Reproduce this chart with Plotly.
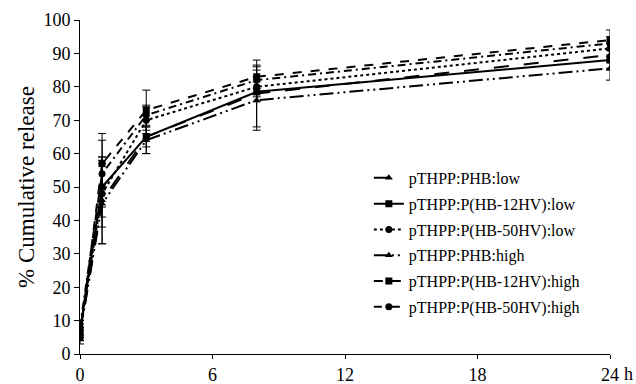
import plotly.graph_objects as go

times = [0, 1, 3, 8, 24]
tick_vals = [0, 6, 12, 18, 24]
tick_text = ["0", "6", "12", "18", "24"]

names = ["pTHPP:PHB:low", "pTHPP:P(HB-12HV):low", "pTHPP:P(HB-50HV):low",
         "pTHPP:PHB:high", "pTHPP:P(HB-12HV):high", "pTHPP:P(HB-50HV):high"]

phb_low = [6, 46, 65, 78, 89.5]
hv12_low = [7, 50, 65, 78.5, 88]
hv50_low = [7, 48, 70, 80, 91.5]
phb_high = [6, 45, 64, 76, 85.5]
hv12_high = [5, 57, 73, 83, 94]
hv50_high = [8, 54, 71.5, 82, 93]

err_phb_low = [2, 13, 5, 10, 2]
err_hv12_low = [2, 9, 3, 3, 3]
err_hv50_low = [2, 10, 4, 3, 2]
err_phb_high = [2, 12, 4, 9, 3.5]
err_hv12_high = [2, 9, 6, 3.5, 3]
err_hv50_high = [2, 10, 3, 4, 2]

series = [phb_low, hv12_low, hv50_low, phb_high, hv12_high, hv50_high]
errors = [err_phb_low, err_hv12_low, err_hv50_low, err_phb_high, err_hv12_high, err_hv50_high]
dashes = ["longdash", "solid", "dot", "14px,4px,2px,4px,2px,4px", "dash", "8px,4px,2px,4px"]
symbols = ["triangle-up", "square", "circle", "triangle-up", "square", "circle"]

fig = go.Figure()
for i, (nm, ys, er, ds, sy) in enumerate(zip(names, series, errors, dashes, symbols)):
    fig.add_trace(go.Scatter(
        x=times, y=ys, name=nm, mode="lines+markers",
        legendgroup=str(i),
        line=dict(color="black", width=2, dash=ds),
        marker=dict(symbol=sy, size=7, color="black"),
        error_y=dict(type="data", array=er, visible=True, color="black", thickness=1, width=4),
    ))

font_fam = "Liberation Serif, Times New Roman, serif"
fig.update_layout(
    width=636, height=384,
    margin=dict(l=80, r=26, t=20, b=30),
    plot_bgcolor="white", paper_bgcolor="white",
    font=dict(family=font_fam, color="black", size=18),
    showlegend=True,
    legend=dict(x=0.545, y=0.578, xanchor="left", yanchor="top",
                font=dict(family=font_fam, size=16, color="black"),
                bgcolor="rgba(0,0,0,0)", tracegroupgap=2, traceorder="grouped"),
    xaxis=dict(range=[0, 24], tickvals=tick_vals, ticktext=tick_text, automargin=False,
               showline=True, linecolor="black", linewidth=1, ticks="outside",
               ticklen=4, tickcolor="black", showgrid=False, zeroline=False,
               tickfont=dict(size=18)),
    yaxis=dict(range=[0, 100], dtick=10, showline=True, linecolor="black", linewidth=1,
               automargin=False,
               ticks="outside", ticklen=5, tickcolor="black", showgrid=False, zeroline=False,
               title=dict(text="% Cumulative release", font=dict(size=23), standoff=2),
               tickfont=dict(size=18)),
)
fig.add_annotation(x=24, y=0, xref="x", yref="paper", text="h", showarrow=False,
                   xanchor="left", yanchor="middle",
                   xshift=12, yshift=-20, font=dict(family=font_fam, size=18, color="black"))

fig.write_html("out.html", config={"displayModeBar": False},
               post_script="document.body.style.margin='0';document.body.style.overflow='hidden';")
